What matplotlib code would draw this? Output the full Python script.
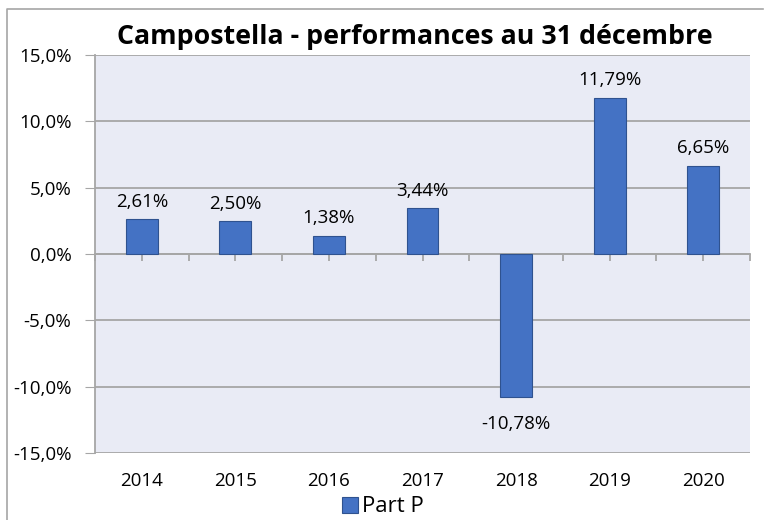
import numpy as np
import matplotlib
matplotlib.use("Agg")
import matplotlib.pyplot as plt
from matplotlib.lines import Line2D
from matplotlib.ticker import FuncFormatter

years = ["2014", "2015", "2016", "2017", "2018", "2019", "2020"]
perf = [2.61, 2.50, 1.38, 3.44, -10.78, 11.79, 6.65]
labels = ["2,61%", "2,50%", "1,38%", "3,44%", "-10,78%", "11,79%", "6,65%"]
title = "Campostella - performances au 31 décembre"
series_name = "Part P"

plt.rcParams["font.family"] = ["Open Sans", "DejaVu Sans"]

fig = plt.figure(figsize=(7.66, 5.2), dpi=100)
ax = fig.add_axes([95 / 766, 1 - 453 / 520, 655 / 766, 398 / 520])
ax.set_facecolor("#E9EBF5")

# outer chart frame: only left and top edges show in the reference
fig.add_artist(Line2D([7 / 766, 7 / 766, 763 / 766], [0, 1 - 9 / 520, 1 - 9 / 520],
                      transform=fig.transFigure, color="#A6A6A6", linewidth=1.2))

x = np.arange(len(years))
bars = ax.bar(x, perf, width=0.34, color="#4472C4", edgecolor="#2F528F",
              linewidth=0.8, zorder=3, label=series_name)

for xi, v, t in zip(x, perf, labels):
    if v >= 0:
        ax.annotate(t, (xi, v), xytext=(0, 6), textcoords="offset points",
                    ha="center", va="bottom", fontsize=13.5)
    else:
        ax.annotate(t, (xi, v), xytext=(0, -13), textcoords="offset points",
                    ha="center", va="top", fontsize=13.5)

ax.set_xlim(-0.5, len(years) - 0.5)
ax.set_ylim(-15, 15)
ax.set_yticks(np.arange(-15, 16, 5))
ax.yaxis.set_major_formatter(FuncFormatter(lambda v, p: f"{v:.1f}%".replace(".", ",")))
ax.grid(axis="y", color="#A6A6A6", linewidth=1.3, zorder=1)
ax.tick_params(axis="y", length=7, color="#A6A6A6", labelsize=13.5, pad=10)

ax.set_xticks(x)
ax.set_xticklabels(years, fontsize=13.5)
ax.tick_params(axis="x", length=0, pad=14)

for s in ["top", "right", "bottom"]:
    ax.spines[s].set_visible(False)
ax.spines["left"].set_color("#A6A6A6")
ax.spines["left"].set_linewidth(1.3)

# category axis crossing at zero, with its tick marks pointing down
zax = ax.secondary_xaxis(0.5)
zax.set_xticks(np.arange(-0.5, len(years), 0.5))
zax.set_xticklabels([])
zax.tick_params(length=5, color="#A6A6A6", width=1.3, direction="in")
for s in zax.spines.values():
    s.set_color("#A6A6A6")
    s.set_linewidth(1.3)

fig.text(0.5 * (118 + 712) / 766, 1 - 37 / 520, title, ha="center", va="center",
         fontsize=19.3, fontweight="bold")

fig.legend(handles=[bars], loc="center", bbox_to_anchor=(383 / 766, 1 - 507 / 520),
           frameon=False, fontsize=16, handlelength=0.7, handleheight=0.7,
           handletextpad=0.2, borderpad=0)

fig.savefig("out.png", dpi=100)
